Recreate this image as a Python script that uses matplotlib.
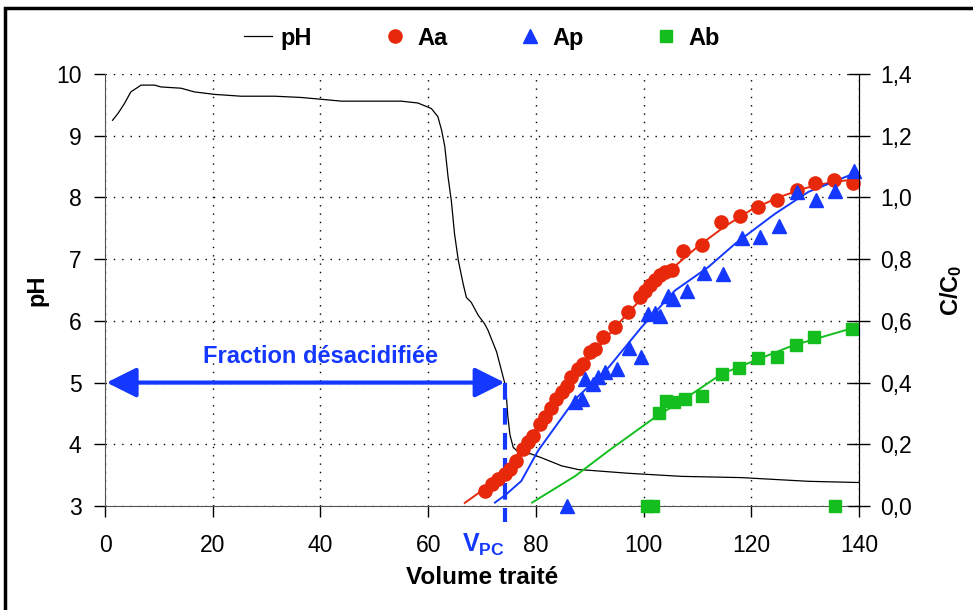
import numpy as np
import matplotlib.pyplot as plt
from matplotlib.lines import Line2D
from matplotlib.patches import Rectangle

plt.rcParams['font.family'] = ['Liberation Sans', 'DejaVu Sans']
plt.rcParams['mathtext.fontset'] = 'custom'
plt.rcParams['mathtext.rm'] = 'Liberation Sans'
plt.rcParams['mathtext.bf'] = 'Liberation Sans:bold'

red = '#e8280a'
blue = '#1438ff'
green = '#14be1e'

# pH curve (left axis)
ph_vol = [1.4, 2.4, 3.6, 4.8, 6.7, 9.2, 10.4, 14.1, 16.6, 20.3, 25.3, 31.5, 36.4, 40.2,
          43.9, 55.0, 58.1, 60.6, 61.8, 62.5, 63.1, 63.7, 64.3, 64.9, 65.6, 66.5, 67.1,
          68.0, 69.3, 70.5, 71.1, 72.7, 73.6, 74.4, 74.8, 75.2, 75.8, 76.4, 77.3, 78.9,
          81.1, 84.8, 87.9, 89.7, 97.2, 107.1, 118.2, 130.6, 140.2]
ph_val = [9.25, 9.36, 9.52, 9.71, 9.82, 9.82, 9.79, 9.77, 9.71, 9.67, 9.64, 9.64, 9.62, 9.59,
          9.56, 9.56, 9.53, 9.44, 9.31, 9.09, 8.82, 8.33, 7.95, 7.41, 6.98, 6.60, 6.38,
          6.30, 6.09, 5.95, 5.85, 5.50, 5.20, 4.93, 4.45, 4.15, 3.95, 3.90, 3.82, 3.85,
          3.78, 3.65, 3.59, 3.58, 3.53, 3.48, 3.46, 3.40, 3.38]

# Aa (red circles)
aa_vol = [70.5, 71.8, 73.0, 74.2, 75.2, 76.4, 77.7, 78.6, 79.5, 80.7, 81.7, 82.9, 83.8, 84.8,
          85.7, 86.6, 87.9, 88.8, 90.0, 91.0, 92.5, 94.7, 97.2, 99.3, 100.3, 101.2, 102.1,
          103.0, 104.0, 105.2, 107.4, 110.8, 114.4, 117.9, 121.3, 124.7, 128.5, 131.9, 135.3, 138.8]
aa_c = [0.049, 0.070, 0.087, 0.105, 0.119, 0.146, 0.184, 0.206, 0.227, 0.265, 0.287, 0.319,
        0.346, 0.368, 0.390, 0.417, 0.444, 0.460, 0.498, 0.509, 0.549, 0.581, 0.630, 0.677,
        0.698, 0.715, 0.731, 0.747, 0.758, 0.765, 0.828, 0.847, 0.920, 0.939, 0.969, 0.991,
        1.023, 1.048, 1.058, 1.048]
aa_fit_vol = [66.8, 70, 75, 80, 85, 90, 95, 100, 105, 110, 115, 120, 125, 130, 135, 139.2]
aa_fit_c = [0.01, 0.05, 0.13, 0.25, 0.37, 0.48, 0.585, 0.68, 0.765, 0.84, 0.905, 0.96, 1.0, 1.03, 1.05, 1.058]

# Ap (blue triangles)
ap_vol = [85.7, 87.3, 88.5, 89.2, 90.7, 91.6, 92.8, 95.0, 97.3, 99.6, 100.9, 102.1, 103.1,
          104.6, 105.5, 108.0, 111.3, 114.8, 118.2, 121.6, 125.1, 128.5, 132.0, 135.5, 139.0]
ap_c = [0.0, 0.336, 0.346, 0.411, 0.395, 0.417, 0.433, 0.444, 0.512, 0.482, 0.623, 0.625,
        0.615, 0.680, 0.671, 0.698, 0.754, 0.752, 0.869, 0.871, 0.909, 1.018, 0.991, 1.021, 1.086]
ap_fit_vol = [72.4, 74.5, 77.3, 80.4, 87.3, 93.5, 99.6, 105.8, 112.0, 117.0, 124.4, 130.6, 139.0]
ap_fit_c = [0.011, 0.038, 0.081, 0.179, 0.346, 0.449, 0.579, 0.698, 0.774, 0.850, 0.947, 1.018, 1.077]

# Ab (green squares)
ab_vol = [100.6, 101.8, 135.5, 102.9, 104.1, 105.7, 107.6, 110.9, 114.5, 117.8, 121.3, 124.8,
          128.3, 131.7, 138.7]
ab_c = [0.0, 0.0, 0.0, 0.303, 0.339, 0.336, 0.346, 0.357, 0.428, 0.446, 0.480, 0.484,
        0.522, 0.547, 0.574]
ab_fit_vol = [79.3, 87.3, 93.5, 102.1, 107.1, 114.5, 121.3, 127.7, 139.3]
ab_fit_c = [0.011, 0.097, 0.179, 0.287, 0.341, 0.428, 0.476, 0.520, 0.579]

v_pc = 74.2

fig = plt.figure(figsize=(9.73, 6.1), dpi=100)
ax = fig.add_axes([105 / 973, 1 - 506 / 610, 754 / 973, 432 / 610])
ax2 = ax.twinx()

ax.plot(ph_vol, ph_val, color='black', lw=0.9, zorder=3)

ax2.plot(aa_fit_vol, aa_fit_c, color=red, lw=1.4)
ax2.plot(ap_fit_vol, ap_fit_c, color=blue, lw=1.4)
ax2.plot(ab_fit_vol, ab_fit_c, color=green, lw=1.4)
ax2.plot(aa_vol, aa_c, 'o', color=red, ms=9.5, ls='none', clip_on=False)
ax2.plot(ap_vol, ap_c, '^', color=blue, ms=10.5, ls='none', clip_on=False)
ax2.plot(ab_vol, ab_c, 's', color=green, ms=8, ls='none', clip_on=False)

ax.set_xlim(0, 140)
ax.set_ylim(3, 10)
ax2.set_ylim(0, 1.4)
ax.set_xticks(np.arange(0, 141, 20))
ax.set_yticks(np.arange(3, 11, 1))
ax2.set_yticks(np.arange(0, 1.41, 0.2))
ax2.set_yticklabels([f'{v:.1f}'.replace('.', ',') for v in np.arange(0, 1.41, 0.2)])

ax.tick_params(axis='x', direction='out', length=8, width=1, pad=12, labelsize=16.5, colors='black')
ax.tick_params(axis='y', direction='out', length=8, width=1, pad=9, labelsize=16.5)
ax2.tick_params(axis='y', direction='inout', length=16, width=1, pad=7, labelsize=16.5)

ax.grid(True, color='black', linestyle=(0, (1, 5)), lw=1)
ax.spines['top'].set_visible(False)
ax2.spines['top'].set_visible(False)
ax.spines['left'].set_color('#555555')
ax.spines['bottom'].set_color('#555555')
ax2.spines['left'].set_visible(False)
ax2.spines['bottom'].set_visible(False)

ax.set_ylabel('pH', fontsize=17, fontweight='bold', labelpad=5)
ax2.set_ylabel(r'$\mathbf{C/C_0}$', fontsize=17, labelpad=19)
ax.set_xlabel('Volume traité', fontsize=17.5, fontweight='bold', labelpad=7)

# desacidified fraction arrow and V_PC marker
ax.annotate('', xy=(0.3, 5), xytext=(v_pc, 5),
            arrowprops=dict(arrowstyle='<|-|>,head_length=1.3,head_width=0.65',
                            color=blue, lw=3, shrinkA=0, shrinkB=0, mutation_scale=14),
            zorder=5)
ax.text(40, 5.42, 'Fraction désacidifiée', color=blue, fontsize=17, fontweight='bold',
        ha='center', va='center', zorder=5)
ax.plot([v_pc, v_pc], [5, 2.74], color=blue, lw=3, ls=(0, (4, 2)), clip_on=False, zorder=5)
ax.text(70.2, 2.37, r'$\mathbf{V_{PC}}$', color=blue, fontsize=18, ha='center', va='center')

handles = [
    Line2D([], [], color='black', lw=0.9),
    Line2D([], [], marker='o', color=red, ms=9.5, ls='none'),
    Line2D([], [], marker='^', color=blue, ms=10.5, ls='none'),
    Line2D([], [], marker='s', color=green, ms=8, ls='none'),
]
ax.legend(handles, ['pH', 'Aa', 'Ap', 'Ab'], loc='center', bbox_to_anchor=(0.5, 1.083),
          ncol=4, frameon=False, prop={'weight': 'bold', 'size': 17},
          handlelength=1.2, handletextpad=0.35, columnspacing=2.9)

fig.patches.append(Rectangle((5 / 973, -0.1), 1.2, 1 - 8 / 610 + 0.1, transform=fig.transFigure,
                             fill=False, edgecolor='black', lw=2.5))

plt.savefig('out.png', dpi=100)
